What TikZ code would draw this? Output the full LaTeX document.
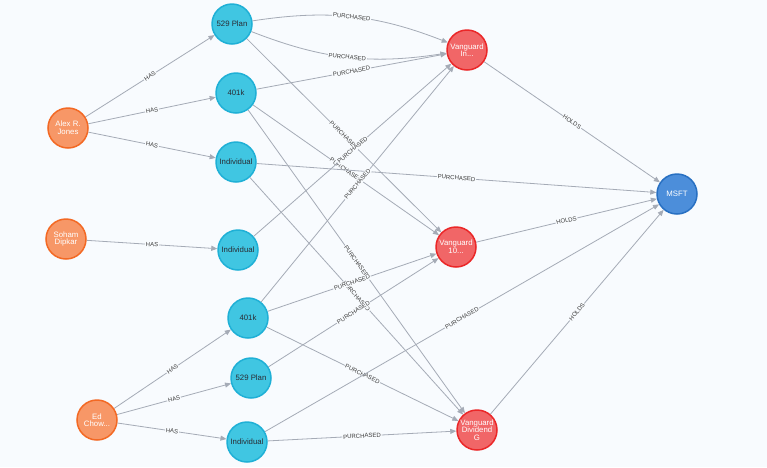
\documentclass[tikz,border=0pt]{standalone}
\usepackage{fontspec}
\setmainfont{Liberation Sans}
\usetikzlibrary{arrows.meta}
\definecolor{bgc}{HTML}{F8FBFE}
\definecolor{edgec}{HTML}{A5ABB6}
\definecolor{perF}{HTML}{F79767}
\definecolor{perD}{HTML}{F36924}
\definecolor{accF}{HTML}{40C6E2}
\definecolor{accD}{HTML}{1FB0D6}
\definecolor{fundF}{HTML}{F16667}
\definecolor{fundD}{HTML}{EB2728}
\definecolor{stkF}{HTML}{4C8EDA}
\definecolor{stkD}{HTML}{2870C2}
\definecolor{lblc}{HTML}{3C3C3C}
\definecolor{acctext}{HTML}{2A2C34}
\pgfdeclarelayer{bglayer}
\pgfdeclarelayer{edgelayer}
\pgfsetlayers{bglayer,edgelayer,main}
\tikzset{
  gnode/.style={circle, minimum size=40pt, inner sep=0pt, line width=1.5pt, align=center,
    font=\fontsize{7.8}{7.6}\selectfont},
  person/.style={gnode, fill=perF, draw=perD, text=white},
  account/.style={gnode, fill=accF, draw=accD, text=acctext},
  fund/.style={gnode, fill=fundF, draw=fundD, text=white},
  stock/.style={gnode, fill=stkF, draw=stkD, text=white},
  rel/.style={draw=edgec, line width=0.8pt, -{Triangle[length=6pt,width=5pt]}},
  lbl/.style={sloped, midway, fill=bgc, inner sep=0.8pt, text=lblc,
    font=\fontsize{6}{6}\selectfont}
}
\begin{document}
\begin{tikzpicture}[x=1pt, y=-1pt]
\useasboundingbox (0,0) rectangle (767,467);
\begin{pgfonlayer}{bglayer}
\fill[bgc] (0,0) rectangle (767,467);
\end{pgfonlayer}
% persons
\node[person] (alex) at (68,128) {Alex R.\\Jones};
\node[person] (soham) at (66,239) {Soham\\Dipkar};
\node[person] (ed) at (97,420) {Ed\\Chow...};
% accounts
\node[account] (pa) at (232,24) {529 Plan};
\node[account] (ka) at (236,93) {401k};
\node[account] (ia) at (236,162) {Individual};
\node[account] (is) at (238,250) {Individual};
\node[account] (ke) at (248,318) {401k};
\node[account] (pe) at (251,378) {529 Plan};
\node[account] (ie) at (247,442) {Individual};
% funds
\node[fund] (vin) at (467,50) {Vanguard\\In...};
\node[fund] (vten) at (456,247) {Vanguard\\10...};
\node[fund] (vdg) at (477,430) {Vanguard\\Dividend\\G};
% stock
\node[stock] (msft) at (677,194) {MSFT};
\begin{pgfonlayer}{edgelayer}
% HAS
\draw[rel] (alex) -- node[lbl]{HAS} (pa);
\draw[rel] (alex) -- node[lbl]{HAS} (ka);
\draw[rel] (alex) -- node[lbl]{HAS} (ia);
\draw[rel] (soham) -- node[lbl]{HAS} (is);
\draw[rel] (ed) -- node[lbl]{HAS} (ke);
\draw[rel] (ed) -- node[lbl]{HAS} (pe);
\draw[rel] (ed) -- node[lbl]{HAS} (ie);
% PURCHASED
\draw[rel] (pa) to[bend left=15] node[lbl]{PURCHASED} (vin);
\draw[rel] (pa) to[bend right=15] node[lbl]{PURCHASED} (vin);
\draw[rel] (ka) -- node[lbl]{PURCHASED} (vin);
\draw[rel] (pa) -- node[lbl]{PURCHASED} (vten);
\draw[rel] (ka) -- node[lbl]{PURCHASED} (vten);
\draw[rel] (ka) -- node[lbl]{PURCHASED} (vdg);
\draw[rel] (ia) -- node[lbl]{PURCHASED} (msft);
\draw[rel] (ia) -- node[lbl]{PURCHASED} (vdg);
\draw[rel] (is) -- node[lbl]{PURCHASED} (vin);
\draw[rel] (ke) -- node[lbl]{PURCHASED} (vin);
\draw[rel] (ke) -- node[lbl]{PURCHASED} (vten);
\draw[rel] (ke) -- node[lbl]{PURCHASED} (vdg);
\draw[rel] (pe) -- node[lbl]{PURCHASED} (vten);
\draw[rel] (ie) -- node[lbl]{PURCHASED} (msft);
\draw[rel] (ie) -- node[lbl]{PURCHASED} (vdg);
% HOLDS
\draw[rel] (vin) -- node[lbl]{HOLDS} (msft);
\draw[rel] (vten) -- node[lbl]{HOLDS} (msft);
\draw[rel] (vdg) -- node[lbl]{HOLDS} (msft);
\end{pgfonlayer}
\end{tikzpicture}
\end{document}
